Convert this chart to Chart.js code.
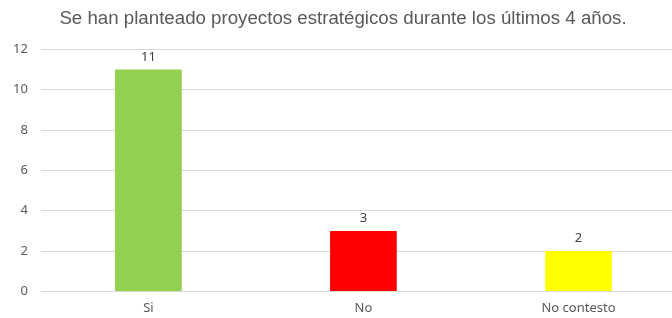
<!DOCTYPE html>
<html>
<head>
<meta charset="utf-8">
<script src="https://cdn.jsdelivr.net/npm/chart.js@4"></script>
<style>
  html, body { margin: 0; padding: 0; background: #fff; overflow: hidden; }
  #wrap { width: 686px; height: 318px; }
</style>
</head>
<body>
<div id="wrap"><canvas id="barChart"></canvas></div>
<script>
    const labels = ['Si', 'No', 'No contesto'];
    const values = [11, 3, 2];
    const colors = ['#92D050', '#FF0000', '#FFFF00'];
    const yTicks = [0, 2, 4, 6, 8, 10, 12];

    /* values above bars */
    const valueLabels = {
        id: 'valueLabels',
        afterDatasetsDraw(chart) {
            const ctx = chart.ctx;
            const meta = chart.getDatasetMeta(0);
            ctx.save();
            ctx.font = '13px "Noto Sans", sans-serif';
            ctx.fillStyle = '#404040';
            ctx.textAlign = 'center';
            ctx.textBaseline = 'bottom';
            meta.data.forEach((bar, i) => {
                ctx.fillText(values[i], bar.x, bar.y - 6);
            });
            ctx.restore();
        }
    };

    new Chart(document.getElementById('barChart'), {
        type: 'bar',
        data: {
            labels: labels,
            datasets: [{
                data: values,
                backgroundColor: colors,
                borderWidth: 0,
                categoryPercentage: 1,
                barPercentage: 0.31
            }]
        },
        options: {
            responsive: true,
            maintainAspectRatio: false,
            animation: false,
            layout: { padding: { top: 0, right: 0, bottom: 1, left: 0 } },
            plugins: {
                legend: { display: false },
                tooltip: { enabled: false },
                title: {
                    display: true,
                    text: 'Se han planteado proyectos estratégicos durante los últimos 4 años.',
                    color: '#595959',
                    font: { family: '"Liberation Sans", sans-serif', size: 18.7, weight: 'normal' },
                    padding: { top: 8, bottom: 19 }
                }
            },
            scales: {
                x: {
                    grid: { display: false },
                    border: { display: false },
                    ticks: { color: '#595959', font: { family: '"Noto Sans", sans-serif', size: 13 }, padding: 1 }
                },
                y: {
                    min: 0,
                    max: 12,
                    afterBuildTicks: (axis) => { axis.ticks = yTicks.map(v => ({ value: v })); },
                    grid: { color: '#d9d9d9', drawTicks: false },
                    border: { display: false },
                    ticks: { color: '#595959', font: { family: '"Noto Sans", sans-serif', size: 13 }, padding: 13 }
                }
            }
        },
        plugins: [valueLabels]
    });
</script>
</body>
</html>
